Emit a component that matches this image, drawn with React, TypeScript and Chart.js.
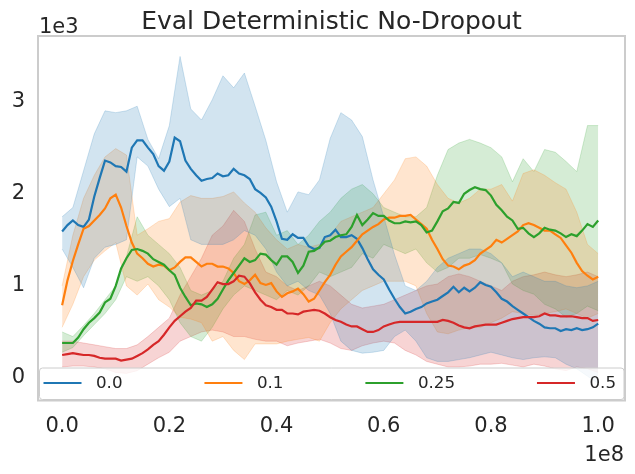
import React, { useEffect, useRef } from "react";
import { Chart, registerables } from "chart.js";

Chart.register(...registerables);

// x positions (millions of env steps) for the mean curves
const STEPS_FINE_M = [0, 1, 2, 3, 4, 5, 6, 7, 8, 9, 10, 11, 12, 13, 14, 15, 16, 17, 18, 19, 20, 21, 22, 23, 24, 25, 26, 27, 28, 29, 30, 31, 32, 33, 34, 35, 36, 37, 38, 39, 40, 41, 42, 43, 44, 45, 46, 47, 48, 49, 50, 51, 52, 53, 54, 55, 56, 57, 58, 59, 60, 61, 62, 63, 64, 65, 66, 67, 68, 69, 70, 71, 72, 73, 74, 75, 76, 77, 78, 79, 80, 81, 82, 83, 84, 85, 86, 87, 88, 89, 90, 91, 92, 93, 94, 95, 96, 97, 98, 99, 100];
// x positions (millions of env steps) for the confidence bands
const STEPS_M = [0, 2, 4, 6, 8, 10, 12, 14, 16, 18, 20, 22, 24, 26, 28, 30, 32, 34, 36, 38, 40, 42, 44, 46, 48, 50, 52, 54, 56, 58, 60, 62, 64, 66, 68, 70, 72, 74, 76, 78, 80, 82, 84, 86, 88, 90, 92, 94, 96, 98, 100];

const SERIES_LABELS = ["0.0", "0.1", "0.25", "0.5"];
const X_TICKS = [0.0, 0.2, 0.4, 0.6, 0.8, 1.0]; // x 1e8
const Y_TICKS = [0, 1, 2, 3]; // x 1e3

// dropout 0.0 (blue)
const B_MEAN = [1590, 1660, 1710, 1660, 1640, 1720, 1970, 2170, 2360, 2340, 2300, 2290, 2240, 2500, 2580, 2580, 2500, 2430, 2300, 2250, 2350, 2610, 2570, 2360, 2270, 2200, 2140, 2160, 2170, 2220, 2190, 2200, 2270, 2220, 2200, 2160, 2050, 2010, 1960, 1860, 1700, 1510, 1500, 1560, 1520, 1520, 1430, 1400, 1410, 1530, 1550, 1610, 1530, 1530, 1550, 1510, 1410, 1290, 1180, 1120, 1070, 960, 860, 770, 700, 720, 750, 770, 810, 830, 850, 890, 930, 990, 930, 980, 940, 980, 1040, 1010, 990, 930, 860, 830, 780, 740, 700, 660, 620, 590, 550, 540, 540, 510, 530, 520, 540, 520, 530, 550, 590];
const B_UP = [1750, 1850, 2250, 2650, 2900, 2880, 2900, 2950, 2590, 2380, 2740, 3490, 2920, 2800, 3020, 3280, 3150, 3310, 2950, 2580, 2130, 1800, 2020, 1990, 2150, 2600, 2880, 2800, 2620, 2150, 1750, 1340, 1000, 950, 1050, 1200, 1300, 1350, 1400, 1400, 1350, 1250, 1100, 1150, 1100, 1050, 1050, 1000, 980, 1000, 1050];
const B_LO = [1400, 1200, 980, 1300, 1420, 1450, 1500, 2400, 2300, 2050, 1860, 1950, 1500, 1450, 1450, 1450, 1500, 1600, 1550, 1400, 1150, 1000, 1050, 950, 900, 700, 400, 300, 270, 280, 300, 450, 520, 400, 220, 180, 180, 200, 220, 250, 280, 250, 220, 200, 220, 230, 220, 150, 100, 20, -60];

// dropout 0.1 (orange)
const O_MEAN = [790, 1060, 1270, 1450, 1620, 1650, 1710, 1770, 1840, 1950, 1990, 1850, 1650, 1470, 1350, 1300, 1240, 1210, 1230, 1220, 1170, 1200, 1260, 1310, 1310, 1260, 1210, 1240, 1240, 1210, 1210, 1190, 1140, 1050, 1020, 1060, 1120, 1030, 1010, 1030, 940, 880, 920, 940, 970, 910, 830, 860, 950, 1040, 1120, 1230, 1320, 1370, 1420, 1490, 1560, 1600, 1640, 1670, 1720, 1740, 1740, 1760, 1760, 1770, 1720, 1670, 1620, 1500, 1400, 1290, 1220, 1210, 1180, 1220, 1240, 1280, 1350, 1390, 1430, 1500, 1470, 1510, 1550, 1590, 1660, 1680, 1660, 1630, 1600, 1600, 1560, 1520, 1440, 1360, 1250, 1160, 1110, 1070, 1100];
const O_UP = [1000, 1550, 1950, 2200, 2400, 2490, 2420, 1550, 1620, 1700, 1730, 1910, 1980, 1950, 1950, 1970, 2020, 1900, 1800, 1630, 1500, 1400, 1450, 1420, 1450, 1550, 1700, 1750, 1800, 1850, 2000, 2150, 2380, 2400, 2300, 2100, 1950, 1900, 1950, 2050, 2050, 2100, 1920, 2220, 2260, 2200, 2120, 2050, 1800, 1450, 1350];
const O_LO = [550, 800, 1100, 1280, 1380, 1470, 1000, 900, 1020, 850, 770, 660, 640, 600, 400, 450, 300, 200, 370, 370, 370, 400, 420, 440, 400, 600, 750, 850, 950, 1000, 1050, 1050, 1050, 1000, 700, 500, 480, 520, 550, 550, 600, 650, 720, 700, 680, 700, 720, 750, 700, 650, 700];

// dropout 0.25 (green)
const G_MEAN = [380, 380, 380, 440, 530, 600, 650, 710, 820, 860, 1000, 1190, 1300, 1390, 1400, 1380, 1350, 1290, 1260, 1230, 1170, 1120, 980, 880, 790, 810, 800, 770, 800, 860, 960, 1060, 1140, 1220, 1300, 1260, 1280, 1350, 1340, 1280, 1230, 1320, 1320, 1260, 1140, 1220, 1370, 1380, 1420, 1480, 1490, 1530, 1550, 1560, 1640, 1770, 1660, 1720, 1790, 1760, 1760, 1710, 1680, 1680, 1700, 1690, 1700, 1660, 1580, 1600, 1700, 1810, 1840, 1910, 1900, 2000, 2040, 2070, 2050, 2040, 1980, 1880, 1820, 1750, 1710, 1620, 1630, 1570, 1530, 1570, 1630, 1610, 1600, 1570, 1530, 1560, 1540, 1600, 1670, 1640, 1710];
const G_UP = [500, 450, 570, 700, 850, 1000, 1320, 1750, 1550, 1450, 1350, 1200, 950, 900, 950, 1050, 1300, 1450, 1770, 1800, 1550, 1600, 1450, 1550, 1700, 1800, 1950, 2050, 2100, 2000, 1850, 1800, 1750, 1750, 1850, 2200, 2480, 2550, 2590, 2550, 2500, 2400, 2130, 2380, 2240, 2480, 2450, 2350, 2240, 2740, 2740];
const G_LO = [280, 330, 460, 580, 700, 850, 1100, 1050, 1100, 1000, 850, 600, 450, 400, 550, 750, 900, 1000, 950, 900, 850, 950, 900, 1000, 1150, 1100, 1150, 1200, 1350, 1300, 1450, 1400, 1350, 1400, 1250, 1150, 1200, 1300, 1300, 1340, 1300, 1250, 1020, 950, 910, 800, 750, 660, 700, 780, 730];

// dropout 0.5 (red)
const R_MEAN = [250, 260, 270, 260, 250, 250, 240, 220, 210, 210, 210, 190, 200, 210, 240, 270, 310, 360, 400, 470, 550, 620, 670, 720, 760, 840, 840, 880, 960, 1040, 1020, 1020, 1050, 1110, 1100, 1030, 930, 850, 790, 770, 740, 740, 700, 700, 690, 720, 730, 740, 730, 700, 660, 630, 610, 580, 560, 560, 530, 500, 500, 520, 560, 580, 600, 610, 610, 610, 610, 610, 610, 610, 610, 630, 620, 600, 570, 550, 540, 560, 570, 580, 580, 580, 600, 620, 640, 650, 660, 660, 660, 670, 700, 680, 680, 670, 670, 670, 660, 650, 650, 620, 630];
const R_UP = [400, 400, 380, 360, 340, 320, 320, 360, 450, 550, 650, 900, 1100, 1300, 1550, 1650, 1820, 1700, 1400, 1150, 1100, 1000, 950, 1000, 1050, 1000, 900, 800, 760, 780, 800, 850, 900, 950, 1000, 1020, 1100, 1130, 1100, 1050, 1000, 950, 1050, 1100, 1120, 1150, 1120, 1100, 1120, 1150, 1100];
const R_LO = [120, 130, 130, 120, 100, 60, 50, 80, 150, 220, 280, 400, 450, 500, 520, 500, 450, 450, 420, 400, 400, 350, 380, 400, 420, 380, 320, 300, 350, 380, 400, 380, 300, 250, 180, 150, 120, 120, 130, 150, 150, 160, 140, 120, 150, 130, 100, 80, 120, 100, 60];

const COLORS = ["#1f77b4", "#ff7f0e", "#2ca02c", "#d62728"];
const TEXT_COLOR = "#262626";
const FONT = '"DejaVu Sans", "Liberation Sans", sans-serif';

function rgba(hex: string, a: number) {
  const n = parseInt(hex.slice(1), 16);
  return `rgba(${(n >> 16) & 255},${(n >> 8) & 255},${n & 255},${a})`;
}

export default function App() {
  const ref = useRef<HTMLCanvasElement>(null);

  useEffect(() => {
    document.body.style.margin = "0";
    const canvas = ref.current;
    if (!canvas) return;

    const series = [
      { label: SERIES_LABELS[0], mean: B_MEAN, up: B_UP, lo: B_LO },
      { label: SERIES_LABELS[1], mean: O_MEAN, up: O_UP, lo: O_LO },
      { label: SERIES_LABELS[2], mean: G_MEAN, up: G_UP, lo: G_LO },
      { label: SERIES_LABELS[3], mean: R_MEAN, up: R_UP, lo: R_LO },
    ];
    const pts = (xs: number[], arr: number[]) => arr.map((v, i) => ({ x: xs[i] * 1e6, y: v }));

    const datasets: any[] = [];
    series.forEach((s, k) => {
      const c = COLORS[k];
      datasets.push({
        label: s.label + " upper",
        data: pts(STEPS_M, s.up),
        fill: "+1",
        backgroundColor: rgba(c, 0.2),
        borderColor: rgba(c, 0.2),
        borderWidth: 1,
        pointRadius: 0,
        tension: 0,
        order: 10,
      });
      datasets.push({
        label: s.label + " lower",
        data: pts(STEPS_M, s.lo),
        fill: false,
        borderColor: rgba(c, 0.2),
        borderWidth: 1,
        pointRadius: 0,
        tension: 0,
        order: 10,
      });
    });
    series.forEach((s, k) => {
      datasets.push({
        label: s.label,
        data: pts(STEPS_FINE_M, s.mean),
        fill: false,
        borderColor: COLORS[k],
        borderWidth: 2.2,
        pointRadius: 0,
        tension: 0,
        order: 4 - k,
      });
    });

    const decor = {
      id: "decor",
      afterDraw(chart: any) {
        const ctx = chart.ctx;
        const ca = chart.chartArea;
        ctx.save();
        // frame
        ctx.strokeStyle = "#cccccc";
        ctx.lineWidth = 2;
        ctx.strokeRect(ca.left, ca.top, ca.right - ca.left, ca.bottom - ca.top);

        // legend
        const bx = ca.left + 1.5;
        const by = ca.bottom - 32.5;
        const bw = ca.right - ca.left - 2.5;
        const bh = 31.5;
        ctx.beginPath();
        ctx.roundRect(bx, by, bw, bh, 3);
        ctx.fillStyle = "rgba(255,255,255,0.8)";
        ctx.fill();
        ctx.lineWidth = 1;
        ctx.strokeStyle = "#cccccc";
        ctx.stroke();
        ctx.font = `16.7px ${FONT}`;
        const handle = 38;
        const pad = 14.5;
        const widths = SERIES_LABELS.map((l) => ctx.measureText(l).width);
        const innerL = bx + 4;
        const innerR = bx + bw - 8;
        const total = widths.reduce((a, w) => a + handle + pad + w, 0);
        const gap = (innerR - innerL - total) / (SERIES_LABELS.length - 1);
        let x = innerL;
        const ly = by + 15;
        SERIES_LABELS.forEach((l, k) => {
          ctx.beginPath();
          ctx.strokeStyle = COLORS[k];
          ctx.lineWidth = 2.2;
          ctx.moveTo(x, ly);
          ctx.lineTo(x + handle, ly);
          ctx.stroke();
          ctx.fillStyle = TEXT_COLOR;
          ctx.textAlign = "left";
          ctx.textBaseline = "middle";
          ctx.fillText(l, x + handle + pad, ly + 1);
          x += handle + pad + widths[k] + gap;
        });

        // title
        ctx.fillStyle = TEXT_COLOR;
        ctx.font = `25px ${FONT}`;
        ctx.textAlign = "center";
        ctx.textBaseline = "alphabetic";
        ctx.fillText("Eval Deterministic No-Dropout", (ca.left + ca.right) / 2, 29);

        // offset labels
        ctx.font = `21px ${FONT}`;
        ctx.textAlign = "left";
        ctx.fillText("1e3", ca.left + 1, 33);
        ctx.textAlign = "right";
        ctx.fillText("1e8", ca.right - 1, 461);
        ctx.restore();
      },
    };

    const chart = new Chart(canvas, {
      type: "line",
      data: { datasets },
      plugins: [decor],
      options: {
        animation: false,
        responsive: false,
        layout: { padding: { top: 36, right: 10, left: 0, bottom: 0 } },
        plugins: {
          legend: { display: false },
          title: { display: false },
          tooltip: { enabled: false },
        },
        scales: {
          x: {
            type: "linear",
            min: -4.5e6,
            max: 1.05e8,
            grid: { display: false, drawTicks: false },
            border: { display: false },
            afterBuildTicks: (scale: any) => {
              scale.ticks = X_TICKS.map((v) => ({ value: v * 1e8 }));
            },
            afterFit: (scale: any) => {
              scale.height = 73.5;
            },
            ticks: {
              autoSkip: false,
              maxRotation: 0,
              padding: 13,
              color: TEXT_COLOR,
              font: { family: FONT, size: 21 },
              callback: (v: any) => (Number(v) / 1e8).toFixed(1),
            },
          },
          y: {
            type: "linear",
            min: -244,
            max: 3712,
            grid: { display: false, drawTicks: false },
            border: { display: false },
            afterBuildTicks: (scale: any) => {
              scale.ticks = Y_TICKS.map((v) => ({ value: v * 1000 }));
            },
            afterFit: (scale: any) => {
              scale.width = 38;
            },
            ticks: {
              autoSkip: false,
              padding: 13,
              color: TEXT_COLOR,
              font: { family: FONT, size: 21 },
              callback: (v: any) => String(Number(v) / 1000),
            },
          },
        },
      },
    });

    return () => chart.destroy();
  }, []);

  return (
    <div style={{ width: 635, height: 474, position: "relative" }}>
      <canvas ref={ref} width={635} height={474} style={{ display: "block", width: 635, height: 474 }} />
    </div>
  );
}
